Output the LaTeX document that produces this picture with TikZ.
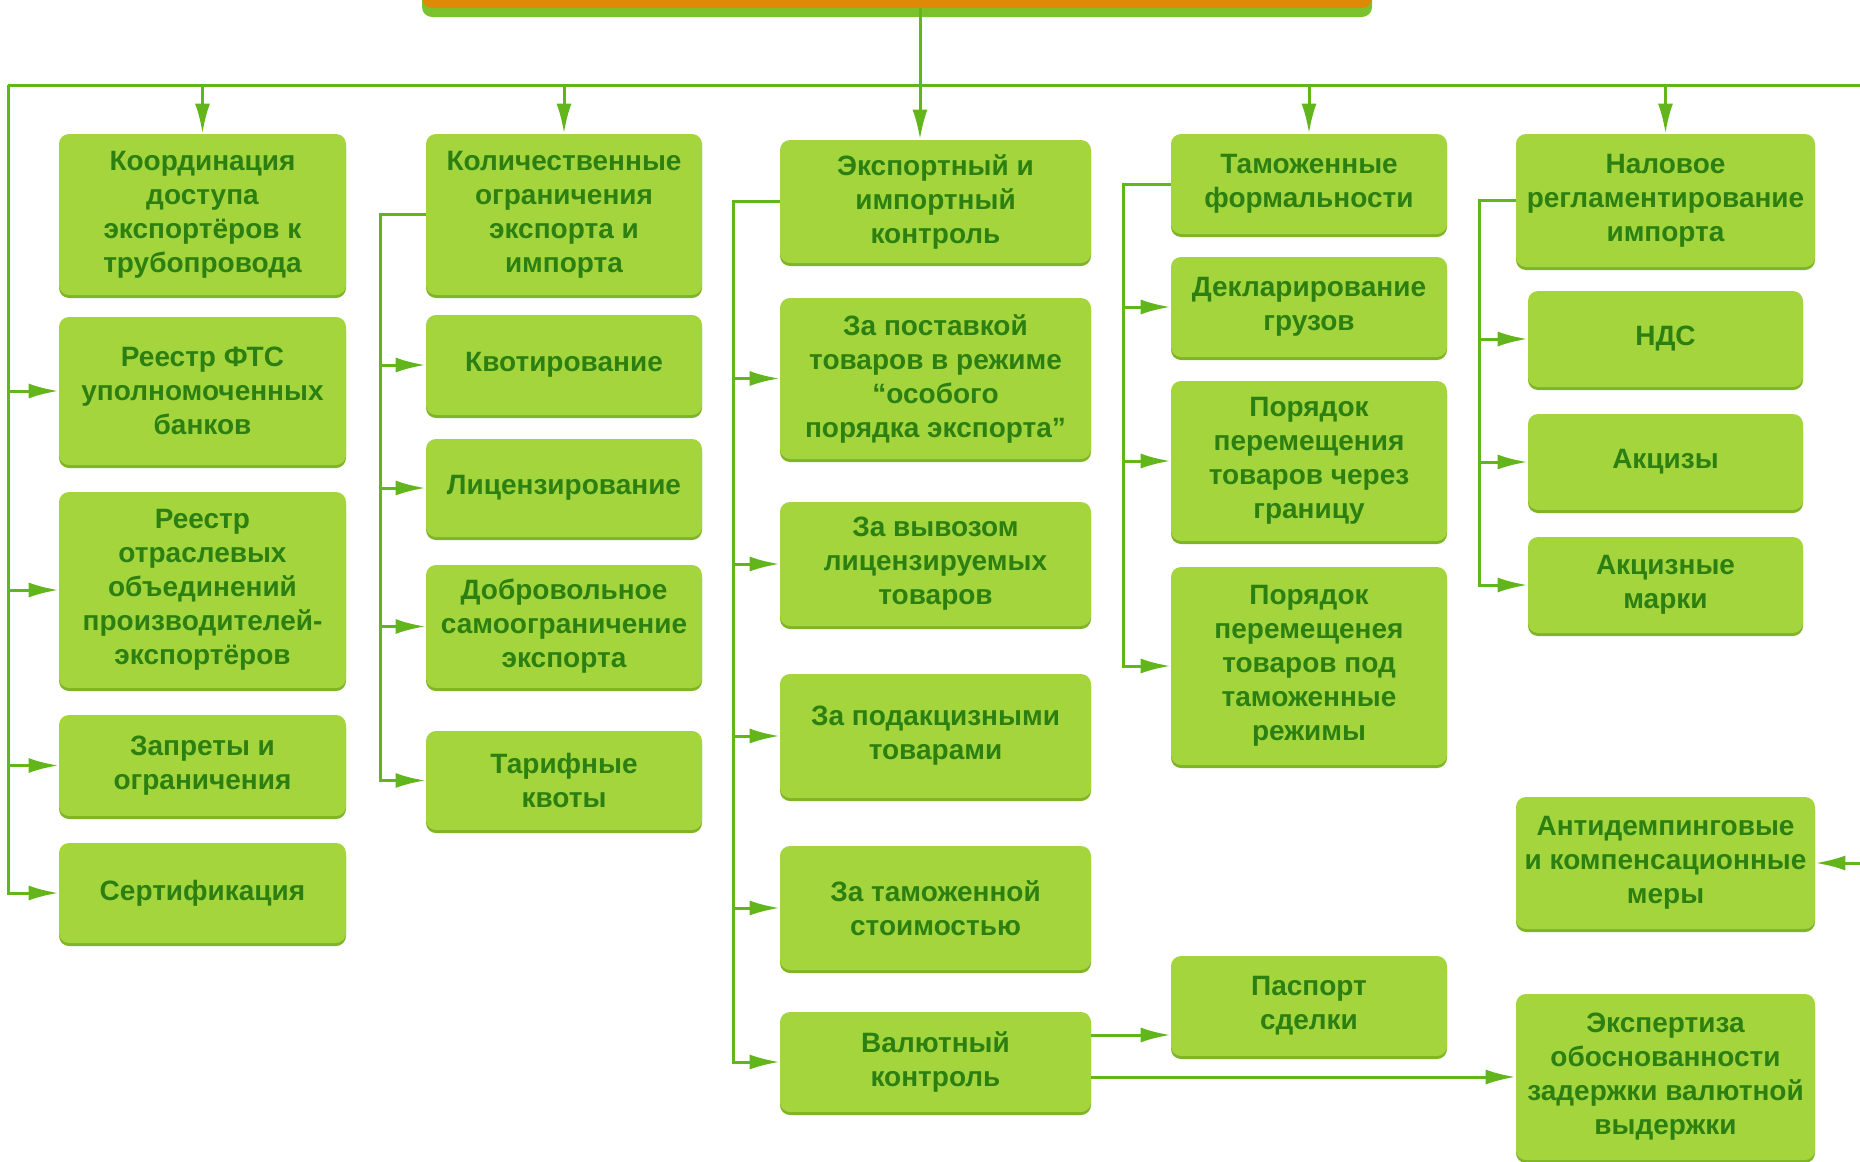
\documentclass[tikz,border=0pt]{standalone}
\usepackage{fontspec}
\setmainfont{Liberation Sans}
\usetikzlibrary{arrows.meta,shadows}
\definecolor{boxgreen}{RGB}{164,213,61}
\definecolor{boxshade}{RGB}{126,180,38}
\definecolor{txtgreen}{RGB}{44,128,18}
\definecolor{linegreen}{RGB}{98,182,28}
\definecolor{topfill}{RGB}{222,138,6}
\definecolor{topglow}{RGB}{108,188,22}

\begin{document}
\begin{tikzpicture}[x=0.5pt, y=-0.5pt, >={Latex[length=15pt,width=7.5pt]}]
\tikzstyle{every node} = [rectangle, rounded corners=5pt, align=center, inner sep=1pt]
\tikzstyle{box} = [fill=boxgreen, text=txtgreen, font=\fontsize{14}{17}\selectfont\bfseries,
  drop shadow={shadow xshift=0pt, shadow yshift=-1.5pt, fill=boxshade, opacity=1}]
\tikzstyle{col1} = [box, minimum width=143.5pt]
\tikzstyle{col2} = [box, minimum width=138pt]
\tikzstyle{col3} = [box, minimum width=155.5pt]
\tikzstyle{col4} = [box, minimum width=138pt]
\tikzstyle{col5} = [box, minimum width=149.5pt]
\tikzstyle{sub5} = [box, minimum width=137.5pt]
\tikzstyle{link} = [draw=linegreen, line width=1.5pt]
\useasboundingbox (0,0) rectangle (1860,1162);

\node[fill=topfill, minimum width=475pt, minimum height=40pt,
  drop shadow={shadow xshift=0pt, shadow yshift=-4.5pt, fill=topglow, opacity=0.9}] (top) at (897, -32) {};

\node[col1, minimum height=80.5pt] (koord) at (202.5, 214.5) {Координация\\доступа\\экспортёров к\\трубопровода};
\node[col1, minimum height=74pt] (reestrfts) at (202.5, 391) {Реестр ФТС\\уполномоченных\\банков};
\node[col1, minimum height=98pt] (reestrotr) at (202.5, 590) {Реестр\\отраслевых\\объединений\\производителей-\\экспортёров};
\node[col1, minimum height=50.5pt] (zaprety) at (202.5, 765.5) {Запреты и\\ограничения};
\node[col1, minimum height=50pt] (sert) at (202.5, 893) {Сертификация};

\node[col2, minimum height=80.5pt] (kolich) at (564, 214.5) {Количественные\\ограничения\\экспорта и\\импорта};
\node[col2, minimum height=50pt] (kvot) at (564, 365) {Квотирование};
\node[col2, minimum height=49pt] (licenz) at (564, 488) {Лицензирование};
\node[col2, minimum height=61.5pt] (dobr) at (564, 626.5) {Добровольное\\самоограничение\\экспорта};
\node[col2, minimum height=49.5pt] (tarif) at (564, 780.5) {Тарифные\\квоты};

\node[col3, minimum height=61.5pt] (expctl) at (935.5, 201.5) {Экспортный и\\импортный\\контроль};
\node[col3, minimum height=80.5pt] (postav) at (935.5, 378.5) {За поставкой\\товаров в режиме\\“особого\\порядка экспорта”};
\node[col3, minimum height=62pt] (vyvoz) at (935.5, 564) {За вывозом\\лицензируемых\\товаров};
\node[col3, minimum height=62pt] (podakc) at (935.5, 736) {За подакцизными\\товарами};
\node[col3, minimum height=62pt] (tamst) at (935.5, 908) {За таможенной\\стоимостью};
\node[col3, minimum height=50pt] (valut) at (935.5, 1062) {Валютный\\контроль};

\node[col4, minimum height=50pt] (tamform) at (1309, 184) {Таможенные\\формальности};
\node[col4, minimum height=50pt] (deklar) at (1309, 307) {Декларирование\\грузов};
\node[col4, minimum height=80pt] (granica) at (1309, 461) {Порядок\\перемещения\\товаров через\\границу};
\node[col4, minimum height=99pt] (rezhimy) at (1309, 666) {Порядок\\перемещенея\\товаров под\\таможенные\\режимы};
\node[col4, minimum height=50pt] (pasport) at (1309, 1006) {Паспорт\\сделки};

\node[col5, minimum height=66.5pt] (nalog) at (1665.5, 200.5) {Наловое\\регламентирование\\импорта};
\node[sub5, minimum height=48pt] (nds) at (1665.5, 339) {НДС};
\node[sub5, minimum height=48pt] (akcizy) at (1665.5, 462) {Акцизы};
\node[sub5, minimum height=48pt] (marki) at (1665.5, 585) {Акцизные\\марки};
\node[col5, minimum height=66pt] (antidemp) at (1665.5, 863) {Антидемпинговые\\и компенсационные\\меры};
\node[col5, minimum height=83pt] (ekspert) at (1665.5, 1077) {Экспертиза\\обоснованности\\задержки валютной\\выдержки};

\coordinate (busW) at (8, 85);
\coordinate (busE) at (1860, 85);
\coordinate (trunk) at (920, 85);
\coordinate (br2) at (380, 0);
\coordinate (br3) at (733, 0);
\coordinate (br4) at (1123, 0);
\coordinate (br5) at (1479, 0);
\coordinate (edgeE) at (1860, 863);

\draw [link] (top.south -| trunk) -- (trunk);
\draw [link] (busW) -- (busE);
\draw [link, ->] (trunk) -- (trunk |- expctl.north);
\draw [link, ->] (koord.north |- busW) -- (koord.north);
\draw [link, ->] (kolich.north |- busW) -- (kolich.north);
\draw [link, ->] (tamform.north |- busW) -- (tamform.north);
\draw [link, ->] (nalog.north |- busW) -- (nalog.north);

\draw [link, ->] (busW) |- (sert.west);
\draw [link, ->] (busW |- reestrfts.west) -- (reestrfts.west);
\draw [link, ->] (busW |- reestrotr.west) -- (reestrotr.west);
\draw [link, ->] (busW |- zaprety.west) -- (zaprety.west);

\draw [link, ->] (kolich.west) -- (br2 |- kolich.west) |- (tarif.west);
\draw [link, ->] (br2 |- kvot.west) -- (kvot.west);
\draw [link, ->] (br2 |- licenz.west) -- (licenz.west);
\draw [link, ->] (br2 |- dobr.west) -- (dobr.west);

\draw [link, ->] (expctl.west) -- (br3 |- expctl.west) |- (valut.west);
\draw [link, ->] (br3 |- postav.west) -- (postav.west);
\draw [link, ->] (br3 |- vyvoz.west) -- (vyvoz.west);
\draw [link, ->] (br3 |- podakc.west) -- (podakc.west);
\draw [link, ->] (br3 |- tamst.west) -- (tamst.west);

\draw [link, ->] (tamform.west) -- (br4 |- tamform.west) |- (rezhimy.west);
\draw [link, ->] (br4 |- deklar.west) -- (deklar.west);
\draw [link, ->] (br4 |- granica.west) -- (granica.west);

\draw [link, ->] (nalog.west) -- (br5 |- nalog.west) |- (marki.west);
\draw [link, ->] (br5 |- nds.west) -- (nds.west);
\draw [link, ->] (br5 |- akcizy.west) -- (akcizy.west);

\draw [link, ->] ([yshift=13.5pt]valut.east) -- ([yshift=13.5pt]valut.east -| pasport.west);
\draw [link, ->] (valut.east |- ekspert.west) -- (ekspert.west);
\draw [link, ->] (edgeE) -- (antidemp.east);
\end{tikzpicture}
\end{document}
